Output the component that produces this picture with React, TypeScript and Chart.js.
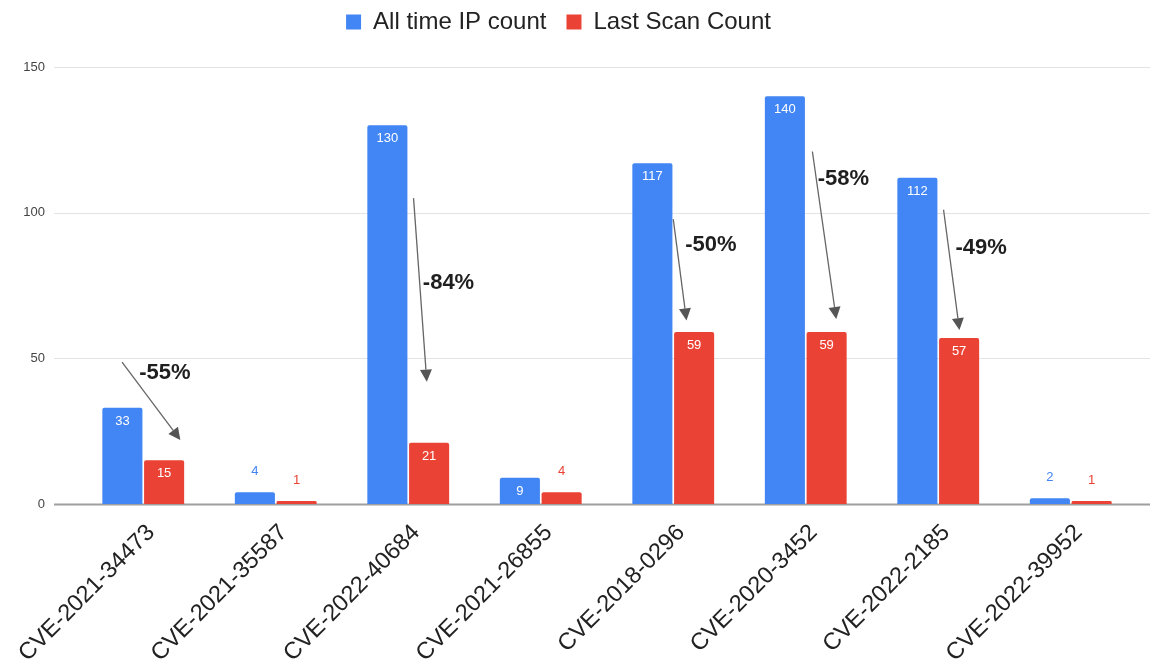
import React, { useEffect, useRef } from "react";
import { Chart, registerables } from "chart.js";

Chart.register(...registerables);

// ---- Data ----
const categories = [
  "CVE-2021-34473",
  "CVE-2021-35587",
  "CVE-2022-40684",
  "CVE-2021-26855",
  "CVE-2018-0296",
  "CVE-2020-3452",
  "CVE-2022-2185",
  "CVE-2022-39952",
];
const allTimeIpCount = [33, 4, 130, 9, 117, 140, 112, 2];
const lastScanCount = [15, 1, 21, 4, 59, 59, 57, 1];
const seriesNames = ["All time IP count", "Last Scan Count"];
const seriesColors = ["#4285F4", "#EA4335"];
const yTickValues = [0, 50, 100, 150];

// ---- Change annotations (category index, offset in category widths, values in data units) ----
const changeLabels = ["-55%", "-84%", "-50%", "-58%", "-49%"];
const changeCategoryIndex = [0, 2, 4, 5, 6];
const arrowFromOffset = [-0.16, 0.04, 0.0, 0.05, 0.04];
const arrowFromValue = [48.7, 105, 97.8, 121, 101];
const arrowToOffset = [0.28, 0.14, 0.1, 0.23, 0.16];
const arrowToValue = [22, 42, 63, 63.5, 59.7];
const labelOffset = [-0.03, 0.11, 0.09, 0.09, 0.13];
const labelValue = [45, 76, 89, 111.5, 88];

const FONT = "'Liberation Sans', Arial, sans-serif";

const gridPlugin = {
  id: "customGrid",
  beforeDatasetsDraw(chart: any) {
    const { ctx, chartArea, scales } = chart;
    const y = scales.y;
    const left = chartArea.left - 23;
    const right = chartArea.right + 13;
    ctx.save();
    yTickValues.forEach((v) => {
      const py = Math.round(y.getPixelForValue(v)) + 0.5;
      ctx.beginPath();
      if (v === 0) {
        ctx.strokeStyle = "#9e9e9e";
        ctx.lineWidth = 2;
      } else {
        ctx.strokeStyle = "#e3e3e3";
        ctx.lineWidth = 1;
      }
      ctx.moveTo(left, py);
      ctx.lineTo(right, py);
      ctx.stroke();
    });
    ctx.restore();
  },
};

const valueLabelPlugin = {
  id: "valueLabels",
  afterDatasetsDraw(chart: any) {
    const { ctx } = chart;
    ctx.save();
    ctx.font = `13px ${FONT}`;
    ctx.textAlign = "center";
    ctx.textBaseline = "middle";
    chart.data.datasets.forEach((ds: any, di: number) => {
      const meta = chart.getDatasetMeta(di);
      meta.data.forEach((bar: any, i: number) => {
        const h = bar.base - bar.y;
        const txt = String(ds.data[i]);
        if (h >= 20) {
          ctx.fillStyle = "#ffffff";
          ctx.fillText(txt, bar.x, bar.y + 13.5);
        } else {
          ctx.fillStyle = seriesColors[di];
          ctx.fillText(txt, bar.x, bar.y - 21);
        }
      });
    });
    ctx.restore();
  },
};

const annotationPlugin = {
  id: "changeAnnotations",
  afterDatasetsDraw(chart: any) {
    const { ctx, scales } = chart;
    const xs = scales.x;
    const ys = scales.y;
    const catW = xs.getPixelForValue(1) - xs.getPixelForValue(0);
    const px = (ci: number, off: number) => xs.getPixelForValue(ci) + off * catW;
    ctx.save();
    changeLabels.forEach((label, k) => {
      const ci = changeCategoryIndex[k];
      const x1 = px(ci, arrowFromOffset[k]);
      const y1 = ys.getPixelForValue(arrowFromValue[k]);
      const x2 = px(ci, arrowToOffset[k]);
      const y2 = ys.getPixelForValue(arrowToValue[k]);
      const ang = Math.atan2(y2 - y1, x2 - x1);
      const headLen = 12;
      const headHalf = 6;
      const bx = x2 - headLen * Math.cos(ang);
      const by = y2 - headLen * Math.sin(ang);
      ctx.strokeStyle = "#666666";
      ctx.lineWidth = 1.3;
      ctx.beginPath();
      ctx.moveTo(x1, y1);
      ctx.lineTo(bx, by);
      ctx.stroke();
      ctx.fillStyle = "#555555";
      ctx.beginPath();
      ctx.moveTo(x2, y2);
      ctx.lineTo(bx + headHalf * Math.sin(ang), by - headHalf * Math.cos(ang));
      ctx.lineTo(bx - headHalf * Math.sin(ang), by + headHalf * Math.cos(ang));
      ctx.closePath();
      ctx.fill();

      ctx.fillStyle = "#1f1f1f";
      ctx.font = `bold 22px ${FONT}`;
      ctx.textAlign = "left";
      ctx.textBaseline = "middle";
      ctx.fillText(label, px(ci, labelOffset[k]), ys.getPixelForValue(labelValue[k]));
    });
    ctx.restore();
  },
};

const legendShiftPlugin = {
  id: "legendShift",
  afterLayout(chart: any) {
    if (chart.legend) {
      chart.legend.top -= 10;
      chart.legend.bottom -= 10;
      chart.legend.left -= 10;
      chart.legend.right -= 10;
    }
  },
};

export default function App() {
  const canvasRef = useRef<HTMLCanvasElement | null>(null);

  useEffect(() => {
    if (!canvasRef.current) return;
    const chart = new Chart(canvasRef.current, {
      type: "bar",
      data: {
        labels: categories,
        datasets: [
          {
            label: seriesNames[0],
            data: allTimeIpCount,
            backgroundColor: seriesColors[0],
            borderRadius: { topLeft: 2, topRight: 2, bottomLeft: 0, bottomRight: 0 },
            borderSkipped: "start",
            categoryPercentage: 0.63,
            barPercentage: 0.96,
          },
          {
            label: seriesNames[1],
            data: lastScanCount,
            backgroundColor: seriesColors[1],
            borderRadius: { topLeft: 2, topRight: 2, bottomLeft: 0, bottomRight: 0 },
            borderSkipped: "start",
            categoryPercentage: 0.63,
            barPercentage: 0.96,
          },
        ],
      },
      options: {
        responsive: false,
        animation: false,
        devicePixelRatio: 1,
        layout: { padding: { left: 0, right: 16, top: 0, bottom: 0 } },
        plugins: {
          legend: {
            display: true,
            position: "top",
            align: "center",
            labels: {
              boxWidth: 15,
              boxHeight: 15,
              padding: 20,
              color: "#222222",
              font: { size: 24, family: FONT },
            },
          },
          title: {
            display: true,
            text: "",
            weight: 500,
            position: "top",
            font: { size: 1, lineHeight: 1 },
            padding: { top: 0, bottom: 12 },
          } as any,
          tooltip: { enabled: false },
        },
        scales: {
          x: {
            grid: { display: false },
            border: { display: false },
            ticks: {
              autoSkip: false,
              minRotation: 45,
              maxRotation: 45,
              color: "#222222",
              font: { size: 23.5, family: FONT },
              padding: 7,
              labelOffset: 8,
            },
            afterFit(scale: any) {
              scale.height = 162;
            },
          },
          y: {
            min: 0,
            max: 150,
            grid: { display: false, drawTicks: false },
            border: { display: false },
            ticks: {
              stepSize: 50,
              color: "#444444",
              font: { size: 13, family: FONT },
              padding: 32,
            },
            afterFit(scale: any) {
              scale.width = 77;
            },
          },
        },
      },
      plugins: [gridPlugin, valueLabelPlugin, annotationPlugin, legendShiftPlugin],
    });
    return () => chart.destroy();
  }, []);

  return (
    <div style={{ position: "fixed", left: 0, top: 0, width: 1153, height: 666, background: "#fff" }}>
      <canvas ref={canvasRef} width={1153} height={666} />
    </div>
  );
}
